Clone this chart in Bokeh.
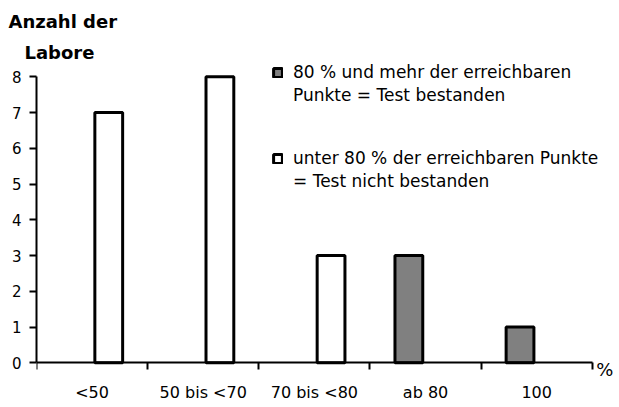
from bokeh.plotting import figure
from bokeh.models import (Range1d, FixedTicker, Legend, LegendItem, ColumnDataSource, Title, Label)
from bokeh.embed import file_html
from bokeh.resources import INLINE

categories = ["<50", "50 bis <70", "70 bis <80", "ab 80", "100"]
passed = [0, 0, 0, 3, 1]        # 80 % und mehr -> bestanden (grau)
failed = [7, 8, 3, 0, 0]        # unter 80 % -> nicht bestanden (weiss)
y_ticks = [0, 1, 2, 3, 4, 5, 6, 7, 8]
y_title = ["Anzahl der", "Labore"]
x_unit = "%"
legend_pass = ["80 % und mehr der erreichbaren", "Punkte = Test bestanden"]
legend_fail = ["unter 80 % der erreichbaren Punkte", "= Test nicht bestanden"]

FONT = "DejaVu Sans"
OFF = 0.15
BW = 0.25
NCAT = len(categories)
YMAX = max(y_ticks)

p = figure(width=619, height=407, output_backend="svg", toolbar_location=None,
           x_range=Range1d(0, NCAT + 0.2), y_range=Range1d(-1.25, YMAX + 0.4),
           min_border_left=36, min_border_right=5, min_border_top=60, min_border_bottom=0)
p.outline_line_color = None
p.xgrid.visible = False
p.ygrid.visible = False

def src(vals, off):
    xs = [i + 0.5 + off for i, v in enumerate(vals) if v > 0]
    ts = [v for v in vals if v > 0]
    return ColumnDataSource(dict(x=xs, top=ts))

r_pass = p.vbar(x="x", top="top", width=BW, source=src(passed, -OFF),
                fill_color="#808080", line_color="black", line_width=3)
r_fail = p.vbar(x="x", top="top", width=BW, source=src(failed, OFF),
                fill_color="white", line_color="black", line_width=3)
r_blank = p.vbar(x=[], top=[], width=BW, fill_alpha=0, line_alpha=0)

# x axis at y = 0: labels at category centres, ticks at boundaries
xa = p.xaxis[0]
xa.fixed_location = 0
xa.bounds = (0, NCAT)
xa.ticker = FixedTicker(ticks=[i + 0.5 for i in range(NCAT)],
                        minor_ticks=list(range(NCAT + 1)))
xa.major_label_overrides = {i + 0.5: c for i, c in enumerate(categories)}
xa.major_tick_out = 0
xa.major_tick_in = 0
xa.minor_tick_out = 7
xa.minor_tick_in = 0
xa.minor_tick_line_width = 2
xa.minor_tick_line_color = "black"
xa.axis_line_width = 2
xa.axis_line_color = "black"
xa.major_label_standoff = 13
xa.major_label_text_font = FONT
xa.major_label_text_font_size = "16px"
xa.major_label_text_color = "black"

ya = p.yaxis[0]
ya.ticker = FixedTicker(ticks=y_ticks, minor_ticks=[])
ya.bounds = (0, YMAX)
ya.major_tick_out = 7
ya.major_tick_in = 0
ya.major_tick_line_width = 2
ya.major_tick_line_color = "black"
ya.axis_line_width = 2
ya.axis_line_color = "black"
ya.major_label_standoff = 8
ya.major_label_text_font = FONT
ya.major_label_text_font_size = "15px"
ya.major_label_text_color = "black"

# unit at the end of the x axis
p.add_layout(Label(x=NCAT, y=0, x_offset=4, y_offset=-7, text=x_unit, text_font=FONT,
                   text_font_size="18px", text_baseline="middle", text_color="black"))

# y axis title (two lines) above the plot
p.add_layout(Title(text=y_title[1], align="left", offset=-12, standoff=0, text_font=FONT,
                   text_font_size="18px", text_font_style="bold", text_color="black"), "above")
p.add_layout(Title(text=y_title[0], align="left", offset=-28, standoff=16, text_font=FONT,
                   text_font_size="18px", text_font_style="bold", text_color="black"), "above")

common = dict(border_line_color=None, background_fill_alpha=0, glyph_width=11, glyph_height=11,
              label_standoff=10, spacing=3, label_text_font=FONT, label_text_font_size="17px",
              label_text_color="black", padding=0, margin=0)
leg_a = Legend(items=[LegendItem(label=legend_pass[0], renderers=[r_pass]),
                      LegendItem(label=legend_pass[1], renderers=[r_blank])],
               location=(236, 302), **common)
leg_b = Legend(items=[LegendItem(label=legend_fail[0], renderers=[r_fail]),
                      LegendItem(label=legend_fail[1], renderers=[r_blank])],
               location=(236, 216), **common)
p.add_layout(leg_a)
p.add_layout(leg_b)

open("out.html", "w").write(file_html(p, INLINE))
